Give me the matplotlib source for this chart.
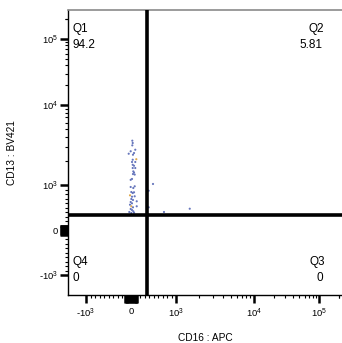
import numpy as np
import matplotlib
matplotlib.use("Agg")
import matplotlib.pyplot as plt
from matplotlib.ticker import FixedLocator, FixedFormatter

plt.rcParams['font.family'] = ['Liberation Sans', 'DejaVu Sans']
plt.rcParams['mathtext.fontset'] = 'custom'
plt.rcParams['mathtext.rm'] = 'Liberation Sans'
plt.rcParams['mathtext.it'] = 'Liberation Sans'

# ---- data (CD16 : APC vs CD13 : BV421) ----
cd16 = [29, 38, 29, 95, -7, 67, -51, 44, 38, 118, 22, 95, 38, 67, 38, 95, 51, 67, 44, 82,
        -7, 22, 82, -7, 51, 7, 38, 67, -22, 22, 82, 7, 44, -7, 127, 22, -22, 7, 44, 127,
        -7, 22, 51, -38, 7, 67,
        489, 393, 393, 733, 1500]
cd13 = [3580, 3350, 3130, 2760, 2640, 2510, 2460, 2390, 2070, 2100, 1940, 1940, 1790, 1740, 1630, 1630,
        1480, 1430, 1370, 1350, 1160, 1190, 971, 956, 933, 844, 822, 838, 771, 740, 749, 689, 667,
        622, 638, 593, 562, 527, 504, 527, 467, 444, 416, 400, 378, 384,
        1030, 873, 504, 400, 473]
hot = [0]*len(cd16)
for i in (9, 28, 37):
    hot[i] = 1

gate_x = 356
gate_y = 333
quad_names = ['Q1', 'Q2', 'Q3', 'Q4']
quad_values = ['94.2', '5.81', '0', '0']

major_vals = [-1000, 0, 1000, 10000, 100000]
major_labels = ['-10$^{3}$', '0', '10$^{3}$', '10$^{4}$', '10$^{5}$']


def make_scale(dec_px):
    anchors = [0] + dec_px

    def fwd(v):
        v = np.asarray(v, float)
        a = np.abs(v)
        s = np.sign(v)
        lin = a * 0.045
        lg = 45 + np.interp(np.log10(np.maximum(a, 1000)), [3, 4, 5, 6], anchors)
        return s * np.where(a <= 1000, lin, lg)

    def inv(p):
        p = np.asarray(p, float)
        a = np.abs(p)
        s = np.sign(p)
        lin = a / 0.045
        lg = 10 ** np.interp(np.maximum(a - 45, 0), anchors, [3, 4, 5, 6])
        return s * np.where(a <= 45, lin, lg)
    return fwd, inv


fx, ix = make_scale([78, 143, 208])
fy, iy = make_scale([80, 146, 212])

W, H = 342, 343
fig = plt.figure(figsize=(W / 100, H / 100), dpi=100)
ax = fig.add_axes([68 / W, (H - 295) / H, (W - 68) / W, (295 - 10) / H])
ax.set_xscale('function', functions=(fx, ix))
ax.set_yscale('function', functions=(fy, iy))
ax.set_xlim(float(ix(-63)), float(ix(211)))
ax.set_ylim(float(iy(-65)), float(iy(220)))

cols = ['#e0a848' if h else '#6676bc' for h in hot]
ax.scatter(cd16, cd13, s=2.4, c=cols, linewidths=0, zorder=3)

ax.axvline(gate_x, color='black', lw=2.6, zorder=4)
ax.axhline(gate_y, color='black', lw=2.6, zorder=4)

# ticks
minor = []
for d in (100, 1000, 10000, 100000):
    for k in range(2, 10):
        minor.append(k * d)
minor = minor + [-m for m in minor if m < 1000] + [2e5]
for axis, lim in ((ax.xaxis, 140), (ax.yaxis, 100)):
    block = [v for v in range(-lim, lim + 1, 20) if v != 0]
    axis.set_major_locator(FixedLocator(major_vals + block))
    axis.set_major_formatter(FixedFormatter(major_labels + [''] * len(block)))
    axis.set_minor_locator(FixedLocator(minor))
ax.tick_params(which='major', length=5.5, width=1.8, labelsize=6.8, color='black')
ax.tick_params(which='minor', length=2.5, width=0.8, color='black')
ax.tick_params(axis='y', pad=1.5)
ax.tick_params(axis='x', pad=3)

for s in ('left', 'bottom'):
    ax.spines[s].set_color('black')
    ax.spines[s].set_linewidth(1.0)
ax.spines['top'].set_color('#8a8a8a')
ax.spines['top'].set_linewidth(1.2)
ax.spines['right'].set_visible(False)

ax.set_xlabel('CD16 : APC', fontsize=7.3, labelpad=9)
ax.set_ylabel('CD13 : BV421', fontsize=7.3, labelpad=16)

fs = 8.5
ax.text(0.018, 0.933, quad_names[0], transform=ax.transAxes, fontsize=fs, ha='left', va='center')
ax.text(0.018, 0.877, quad_values[0], transform=ax.transAxes, fontsize=fs, ha='left', va='center')
ax.text(0.933, 0.933, quad_names[1], transform=ax.transAxes, fontsize=fs, ha='right', va='center')
ax.text(0.927, 0.877, quad_values[1], transform=ax.transAxes, fontsize=fs, ha='right', va='center')
ax.text(0.938, 0.1175, quad_names[2], transform=ax.transAxes, fontsize=fs, ha='right', va='center')
ax.text(0.93, 0.061, quad_values[2], transform=ax.transAxes, fontsize=fs, ha='right', va='center')
ax.text(0.018, 0.1175, quad_names[3], transform=ax.transAxes, fontsize=fs, ha='left', va='center')
ax.text(0.018, 0.061, quad_values[3], transform=ax.transAxes, fontsize=fs, ha='left', va='center')

fig.savefig('out.png', dpi=100)
